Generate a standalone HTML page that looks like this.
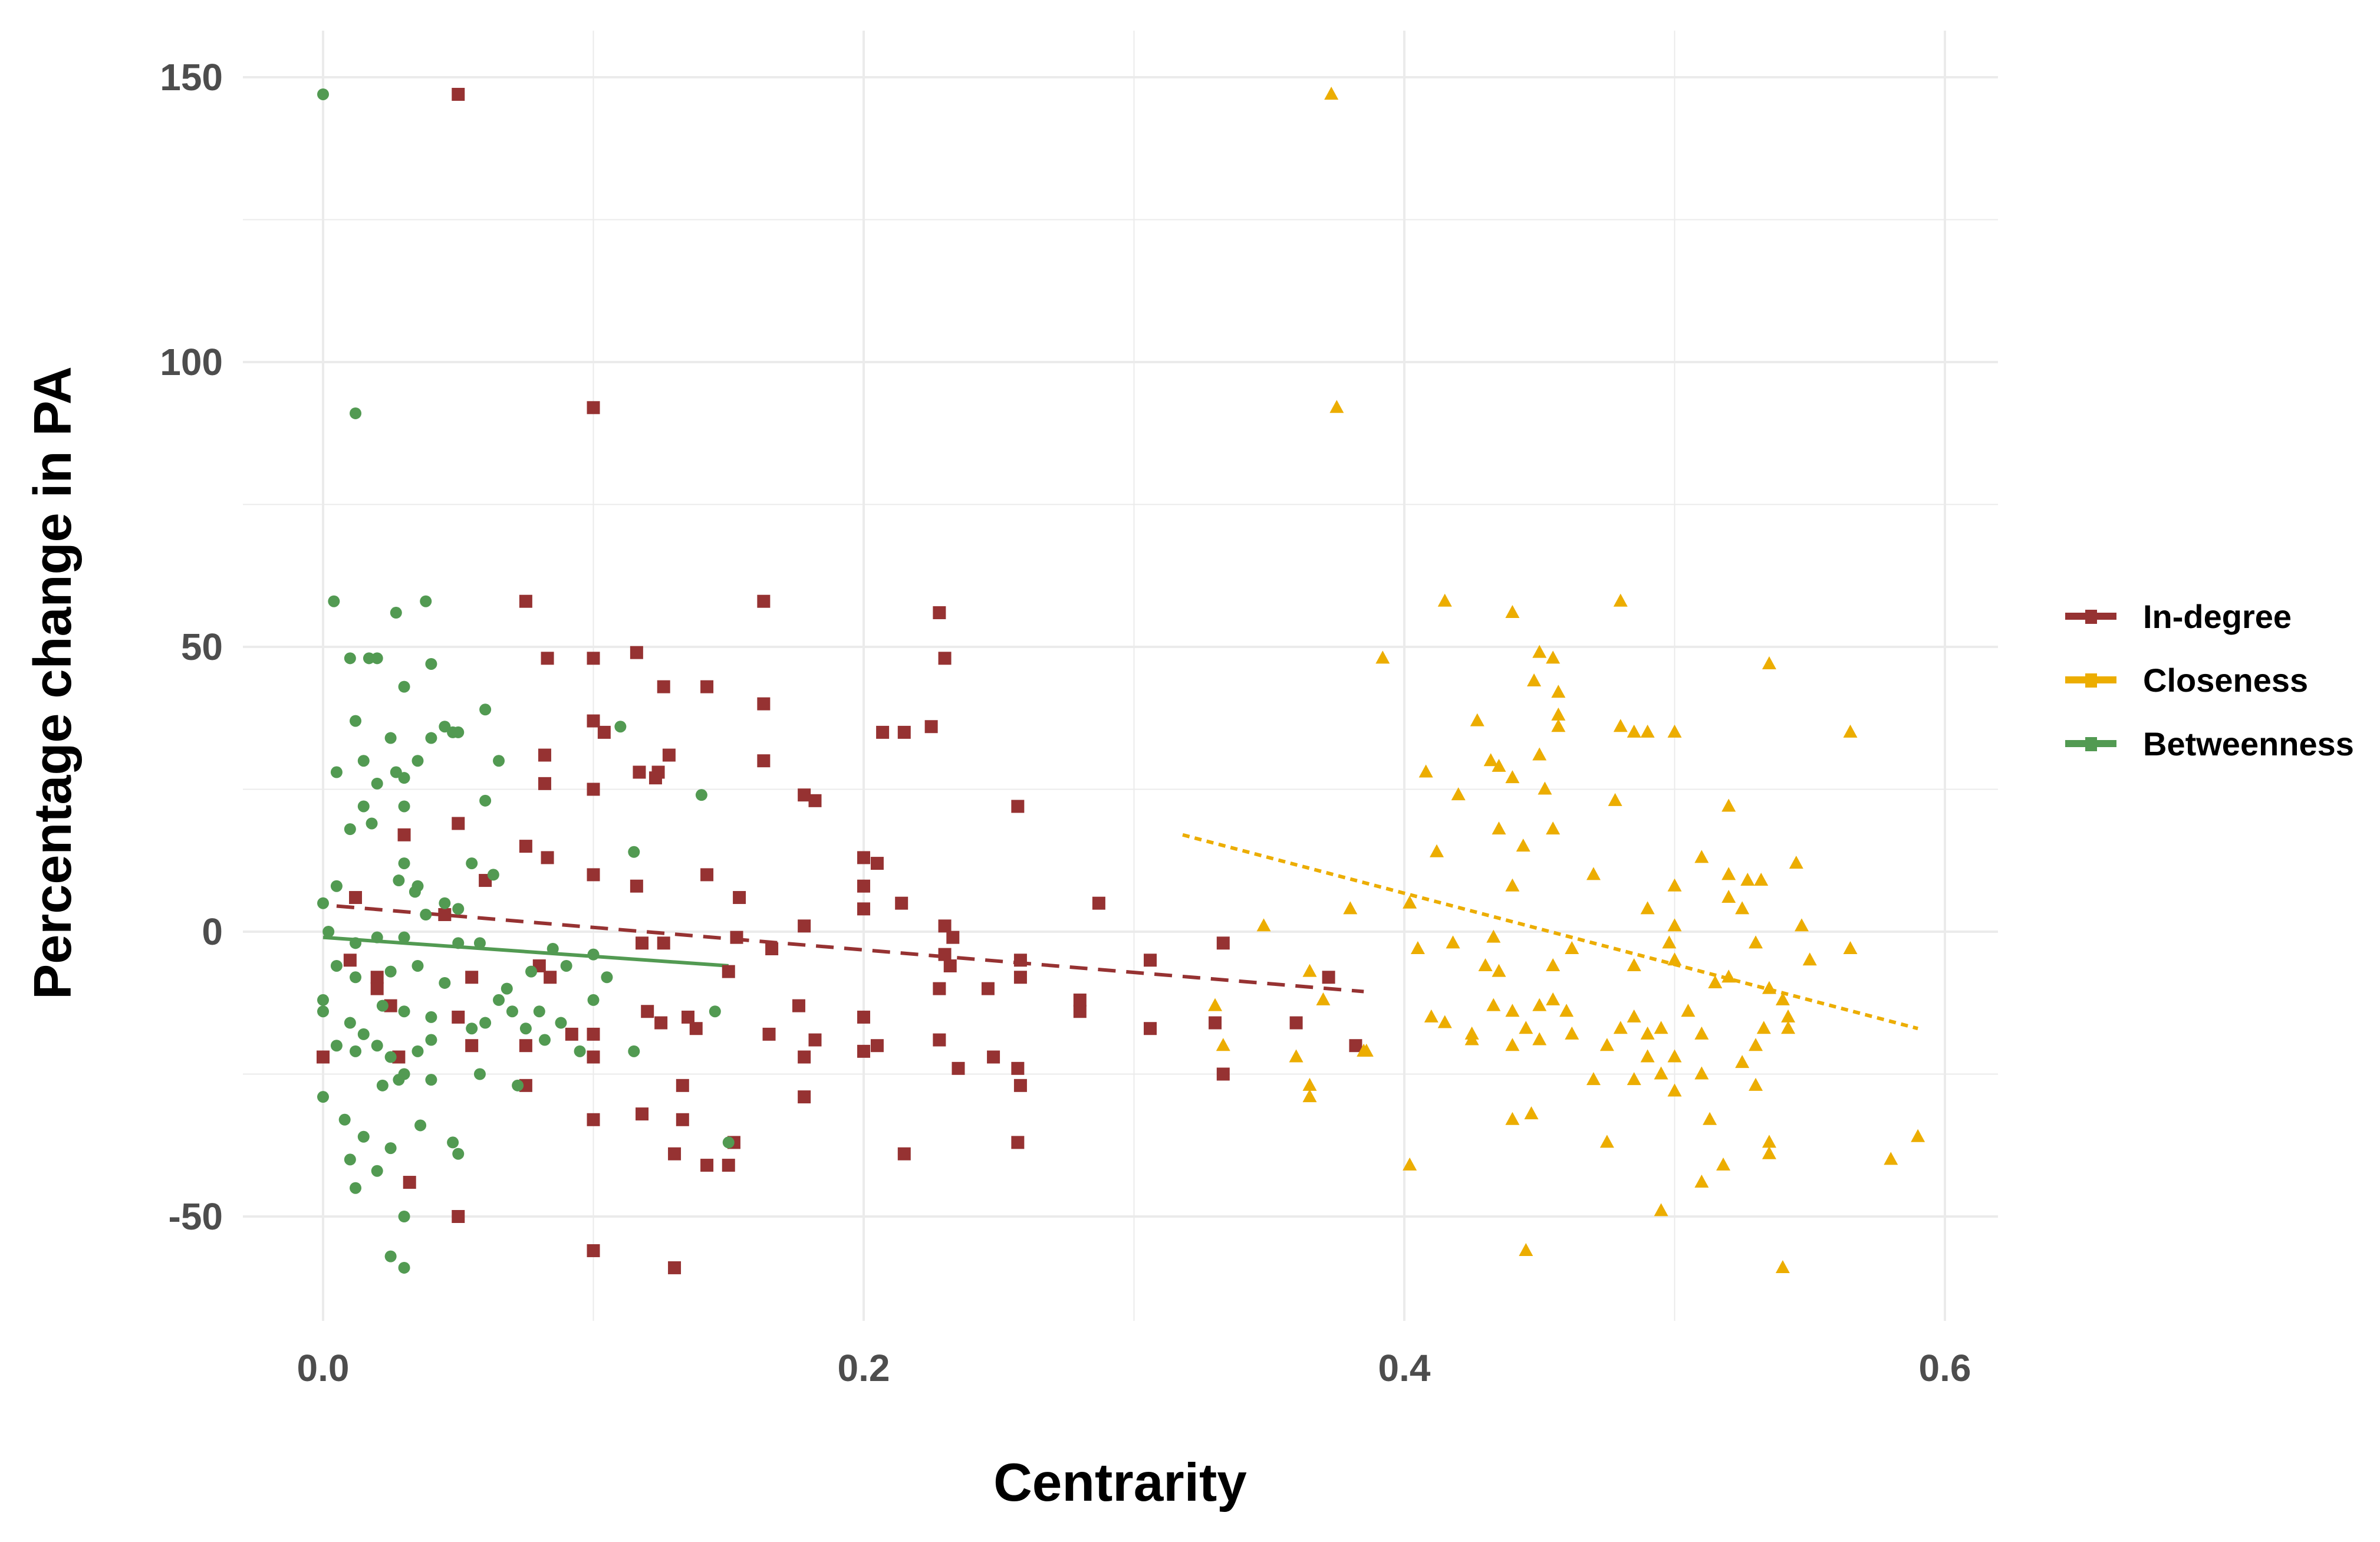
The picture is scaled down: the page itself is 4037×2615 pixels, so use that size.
<!DOCTYPE html>
<html><head><meta charset="utf-8"><style>
html,body{margin:0;padding:0;background:#fff;}
svg{display:block;font-family:"Liberation Sans",Arial,sans-serif;}
</style></head><body>
<svg id="chart" width="4037" height="2615" viewBox="0 0 4037 2615" xmlns="http://www.w3.org/2000/svg">
<g id="grid"></g>
<g id="lines"></g>
<g id="points"></g>
<g id="axes"></g>
<text x="1900" y="2545" text-anchor="middle" font-size="91" font-weight="bold" fill="#000">Centrarity</text>
<text x="0" y="0" transform="translate(120,1158) rotate(-90)" text-anchor="middle" font-size="90" font-weight="bold" fill="#000">Percentage change in PA</text>
<g id="legend"></g>
</svg>
<script>
const xTicks=[0,0.2,0.4,0.6];
const xTickLabels=["0.0","0.2","0.4","0.6"];
const yTicks=[-50,0,50,100,150];
const yTickLabels=["-50","0","50","100","150"];
const seriesNames=["In-degree","Closeness","Betweenness"];
const seriesColors=["#963232","#ecad00","#529a52"];
const trendSlopes=[-39.5,-125,-33.3];
const trendIntercepts=[4.7,56.75,-1];
const trendXStart=[0.005,0.318,0];
const trendXEnd=[0.385,0.59,0.15];
const betweennessX=[0,0.012,0.004,0.038,0.027,0.01,0.017,0.02,0.04,0.06,0.012,0.03,0.045,0.04,0.05,0.048,0.025,0.035,0.015,0.02,0.03,0.027,0.005,0.065,0.015,0.06,0.03,0.018,0.01,0.14,0.11,0.005,0.03,0.055,0.063,0.035,0.028,0.034,0.045,0.05,0.038,0,0.002,0.012,0.02,0.03,0.05,0.058,0.085,0.1,0.115,0.005,0.012,0.025,0.035,0.045,0.068,0.077,0.09,0.022,0.03,0.04,0.055,0.06,0.07,0.08,0.1,0.145,0,0,0.01,0.015,0.02,0.025,0.035,0.04,0.005,0.012,0.03,0.028,0.022,0.04,0.058,0.075,0.082,0.095,0.115,0,0.008,0.015,0.025,0.048,0.01,0.02,0.036,0.05,0.012,0.03,0.025,0.03,0.15,0.072,0.065,0.088,0.105];
const betweennessY=[147,91,58,58,56,48,48,48,47,39,37,43,36,34,35,35,34,30,30,26,27,28,28,30,22,23,22,19,18,24,36,8,12,12,10,8,9,7,5,4,3,5,0,-2,-1,-1,-2,-2,-3,-4,14,-6,-8,-7,-6,-9,-10,-7,-6,-13,-14,-15,-17,-16,-14,-14,-12,-14,-12,-14,-16,-18,-20,-22,-21,-19,-20,-21,-25,-26,-27,-26,-25,-17,-19,-21,-21,-29,-33,-36,-38,-37,-40,-42,-34,-39,-45,-50,-57,-59,-37,-27,-12,-16,-8];
const indegreeX=[0.05,0.1,0.075,0.163,0.228,0.083,0.1,0.116,0.23,0.126,0.142,0.163,0.1,0.104,0.207,0.215,0.225,0.082,0.128,0.163,0.117,0.123,0.124,0.082,0.1,0.178,0.182,0.257,0.05,0.03,0.075,0.083,0.2,0.205,0.1,0.142,0.116,0.2,0.214,0.287,0.06,0.012,0.045,0.178,0.2,0.23,0.233,0.154,0.118,0.126,0.153,0.166,0.02,0.01,0.055,0.08,0.084,0.23,0.232,0.258,0.258,0.246,0.306,0.333,0.33,0.36,0.372,0.382,0.306,0.333,0.15,0.138,0.12,0.125,0.135,0.1,0.1,0.092,0.075,0.075,0.055,0.05,0.025,0.028,0.02,0.176,0.182,0.165,0.178,0.2,0.2,0.205,0.228,0.228,0.235,0.248,0.257,0.258,0.28,0.28,0,0.1,0.118,0.133,0.133,0.178,0.13,0.142,0.15,0.152,0.215,0.257,0.032,0.05,0.1,0.13];
const indegreeY=[147,92,58,58,56,48,48,49,48,43,43,40,37,35,35,35,36,31,31,30,28,27,28,26,25,24,23,22,19,17,15,13,13,12,10,10,8,8,5,5,9,6,3,1,4,1,-1,6,-2,-2,-1,-3,-8,-5,-8,-6,-8,-4,-6,-5,-8,-10,-5,-2,-16,-16,-8,-20,-17,-25,-7,-17,-14,-16,-15,-18,-22,-18,-20,-27,-20,-15,-13,-22,-10,-13,-19,-18,-22,-15,-21,-20,-10,-19,-24,-22,-24,-27,-12,-14,-22,-33,-32,-33,-27,-29,-39,-41,-41,-37,-39,-37,-44,-50,-56,-59];
const closenessX=[0.373,0.375,0.415,0.48,0.44,0.392,0.45,0.455,0.535,0.448,0.457,0.457,0.427,0.457,0.48,0.49,0.485,0.5,0.565,0.432,0.435,0.45,0.408,0.44,0.452,0.42,0.478,0.52,0.435,0.455,0.444,0.412,0.51,0.545,0.47,0.52,0.527,0.532,0.44,0.5,0.52,0.38,0.402,0.525,0.348,0.49,0.5,0.547,0.433,0.418,0.405,0.498,0.53,0.565,0.462,0.43,0.435,0.455,0.5,0.485,0.55,0.365,0.37,0.33,0.41,0.415,0.425,0.433,0.44,0.45,0.455,0.46,0.445,0.44,0.45,0.462,0.475,0.48,0.485,0.49,0.49,0.495,0.5,0.51,0.495,0.47,0.485,0.5,0.51,0.525,0.53,0.533,0.53,0.542,0.54,0.535,0.52,0.515,0.505,0.475,0.447,0.44,0.513,0.518,0.535,0.535,0.58,0.59,0.51,0.495,0.402,0.385,0.386,0.333,0.36,0.365,0.365,0.445,0.54,0.425,0.542];
const closenessY=[147,92,58,58,56,48,49,48,47,44,42,38,37,36,36,35,35,35,35,30,29,31,28,27,25,24,23,22,18,18,15,14,13,12,10,10,9,9,8,8,6,4,5,4,1,4,1,1,-1,-2,-3,-2,-2,-3,-3,-6,-7,-6,-5,-6,-5,-7,-12,-13,-15,-16,-18,-13,-14,-13,-12,-14,-17,-20,-19,-18,-20,-17,-15,-18,-22,-17,-22,-18,-25,-26,-26,-28,-25,-23,-27,-17,-20,-15,-12,-10,-8,-9,-14,-37,-32,-33,-33,-41,-39,-37,-40,-36,-44,-49,-41,-21,-21,-20,-22,-27,-29,-56,-59,-19,-17];

const NS="http://www.w3.org/2000/svg";
const X0=548, PX=4585;
const Y0=1580, PY=9.66;
const sx=v=>X0+v*PX;
const sy=v=>Y0-v*PY;
const PL=412,PR=3389,PT=52,PB=2240;
function mk(tag,attrs,parent){const e=document.createElementNS(NS,tag);for(const k in attrs)e.setAttribute(k,attrs[k]);parent.appendChild(e);return e;}
const grid=document.getElementById('grid');
for(let v=-50;v<=150;v+=25){
  const major=v%50===0;
  const l=mk('line',{x1:PL,x2:PR,y1:sy(v),y2:sy(v),stroke:'#ebebeb','stroke-width':major?4:2},grid);
  
  
}
for(let i=0;i<=6;i++){
  const v=i/10;const major=i%2===0;
  const l=mk('line',{x1:sx(v),x2:sx(v),y1:PT,y2:PB,stroke:'#ebebeb','stroke-width':major?4:2},grid);
  
  
}
const axes=document.getElementById('axes');
xTicks.forEach((v,i)=>{
  const t=mk('text',{x:sx(v),y:2342,'text-anchor':'middle','font-size':64,'font-weight':'bold',fill:'#4d4d4d'},axes);
  t.textContent=xTickLabels[i];
  
  
});
yTicks.forEach((v,i)=>{
  const t=mk('text',{x:378,y:sy(v)+22,'text-anchor':'end','font-size':64,'font-weight':'bold',fill:'#4d4d4d'},axes);
  t.textContent=yTickLabels[i];
  
  
});
const lines=document.getElementById('lines');
const dashes=['30,18','12,9',''];
seriesNames.forEach((n,k)=>{
  const m=trendSlopes[k],c=trendIntercepts[k],x1=trendXStart[k],x2=trendXEnd[k];
  const l=mk('line',{x1:sx(x1),y1:sy(m*x1+c),x2:sx(x2),y2:sy(m*x2+c),stroke:seriesColors[k],'stroke-width':6},lines);
  if(dashes[k])l.setAttribute('stroke-dasharray',dashes[k]);
  
  
});
const pts=document.getElementById('points');
function square(x,y,col){const e=mk('rect',{x:x-11,y:y-11,width:22,height:22,fill:col},pts);}
function circ(x,y,col){const e=mk('circle',{cx:x,cy:y,r:10,fill:col},pts);}
function tri(x,y,col){const e=mk('polygon',{points:`${x},${y-13} ${x-12},${y+9} ${x+12},${y+9}`,fill:col},pts);}
indegreeX.forEach((v,i)=>square(sx(v),sy(indegreeY[i]),seriesColors[0]));
closenessX.forEach((v,i)=>tri(sx(v),sy(closenessY[i]),seriesColors[1]));
betweennessX.forEach((v,i)=>circ(sx(v),sy(betweennessY[i]),seriesColors[2]));
const leg=document.getElementById('legend');
seriesNames.forEach((n,i)=>{
  const y=1045+i*108;
  const g=mk('g',{},leg);
  
  
  mk('line',{x1:3503,x2:3590,y1:y,y2:y,stroke:seriesColors[i],'stroke-width':12},g);
  mk('rect',{x:3537,y:y-11,width:20,height:24,fill:seriesColors[i]},g);
  const t=mk('text',{x:3635,y:y+20,'font-size':56,'font-weight':'bold',fill:'#000'},g);
  t.textContent=n;
});
</script>
</body></html>
